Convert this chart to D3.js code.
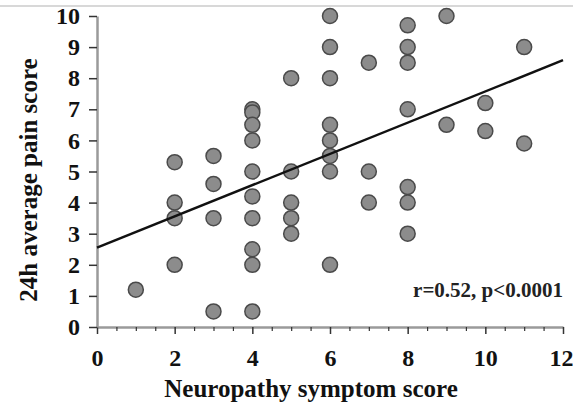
<!DOCTYPE html>
<html>
<head>
<meta charset="utf-8">
<script src="https://cdn.jsdelivr.net/npm/d3@7"></script>
<style>
  body { margin: 0; background: #fff; }
  svg { display: block; }
  .tick text { font-family: "Liberation Serif", "DejaVu Serif", serif; font-weight: bold; font-size: 24px; fill: #111; }
</style>
</head>
<body>
<svg id="chart" width="573" height="406"></svg>
<script>
// symptom score (x) and pain score (y), one entry per patient
var symptomScore = [1,
  2, 2, 2, 2,
  3, 3, 3, 3,
  4, 4, 4, 4, 4, 4, 4, 4, 4, 4,
  5, 5, 5, 5, 5,
  6, 6, 6, 6, 6, 6, 6, 6,
  7, 7, 7,
  8, 8, 8, 8, 8, 8, 8,
  9, 9,
  10, 10,
  11, 11];
var painScore = [1.2,
  5.3, 4.0, 3.5, 2.0,
  5.5, 4.6, 3.5, 0.5,
  7.0, 6.9, 6.5, 6.0, 5.0, 4.2, 3.5, 2.5, 2.0, 0.5,
  8.0, 5.0, 4.0, 3.5, 3.0,
  10.0, 9.0, 8.0, 6.5, 6.0, 5.5, 5.0, 2.0,
  8.5, 5.0, 4.0,
  9.7, 9.0, 8.5, 7.0, 4.5, 4.0, 3.0,
  10.0, 6.5,
  7.2, 6.3,
  9.0, 5.9];
// fitted line end points
var fitX = [0, 12];
var fitY = [2.55, 8.58];
var xTicks = d3.range(0, 12.01, 0.5);
var xLabels = [0, 2, 4, 6, 8, 10, 12];
var yTicks = [0, 1, 2, 3, 4, 5, 6, 7, 8, 9, 10];

var svg = d3.select("#chart");
var serif = '"Liberation Serif", "DejaVu Serif", serif';

// light rule along the top of the picture
svg.append("line")
    .attr("x1", 0).attr("x2", 573)
    .attr("y1", 6).attr("y2", 6)
    .attr("stroke", "#d8d8d8")
    .attr("stroke-width", 2);

var x = d3.scaleLinear().domain([0, 12]).range([97, 563]);
var y = d3.scaleLinear().domain([0, 10]).range([327, 16]);

// x axis: minor ticks every 0.5, labelled majors on even numbers
var xMinor = svg.append("g")
    .attr("transform", "translate(0,327)")
    .call(d3.axisBottom(x).tickValues(xTicks.filter(d => xLabels.indexOf(d) < 0))
        .tickSize(4).tickSizeOuter(0).tickFormat(""));
xMinor.select(".domain").attr("stroke", "#9a9a9a").attr("stroke-width", 2.5);
xMinor.selectAll(".tick line").attr("stroke", "#333").attr("stroke-width", 1.2);

var xMajor = svg.append("g")
    .attr("transform", "translate(0,327)")
    .call(d3.axisBottom(x).tickValues(xLabels).tickSize(7).tickSizeOuter(0).tickPadding(15));
xMajor.select(".domain").remove();
xMajor.selectAll(".tick line").attr("stroke", "#333").attr("stroke-width", 1.5);
// last label sits against the right edge, as in the original
xMajor.selectAll(".tick text").filter(d => d == 12).attr("dx", -2);

// y axis
var yAxis = svg.append("g")
    .attr("transform", "translate(97,0)")
    .call(d3.axisLeft(y).tickValues(yTicks).tickSize(8).tickSizeOuter(0).tickPadding(9));
yAxis.select(".domain").attr("stroke", "#9a9a9a").attr("stroke-width", 2.5);
yAxis.selectAll(".tick line").attr("stroke", "#333").attr("stroke-width", 1.5);

// points
svg.append("g").selectAll("circle")
    .data(symptomScore)
    .enter()
    .append("circle")
    .attr("cx", d => x(d))
    .attr("cy", (d, i) => y(painScore[i]))
    .attr("r", 7.5)
    .attr("fill", "#8c8c8c")
    .attr("stroke", "#4a4a4a")
    .attr("stroke-width", 1.5);

// regression line
svg.append("line")
    .attr("x1", x(fitX[0])).attr("y1", y(fitY[0]))
    .attr("x2", x(fitX[1])).attr("y2", y(fitY[1]))
    .attr("stroke", "#111")
    .attr("stroke-width", 2.5);

svg.append("text")
    .attr("x", 563).attr("y", 297)
    .attr("text-anchor", "end")
    .attr("font-family", serif)
    .attr("font-weight", "bold")
    .attr("font-size", 21)
    .attr("fill", "#222")
    .text("r=0.52, p<0.0001");

// axis titles
svg.append("text")
    .attr("x", 311).attr("y", 397)
    .attr("text-anchor", "middle")
    .attr("font-family", serif)
    .attr("font-weight", "bold")
    .attr("font-size", 25)
    .attr("fill", "#111")
    .text("Neuropathy symptom score");

svg.append("text")
    .attr("transform", "translate(37,180) rotate(-90)")
    .attr("text-anchor", "middle")
    .attr("font-family", serif)
    .attr("font-weight", "bold")
    .attr("font-size", 25)
    .attr("fill", "#111")
    .text("24h average pain score");
</script>
</body>
</html>
